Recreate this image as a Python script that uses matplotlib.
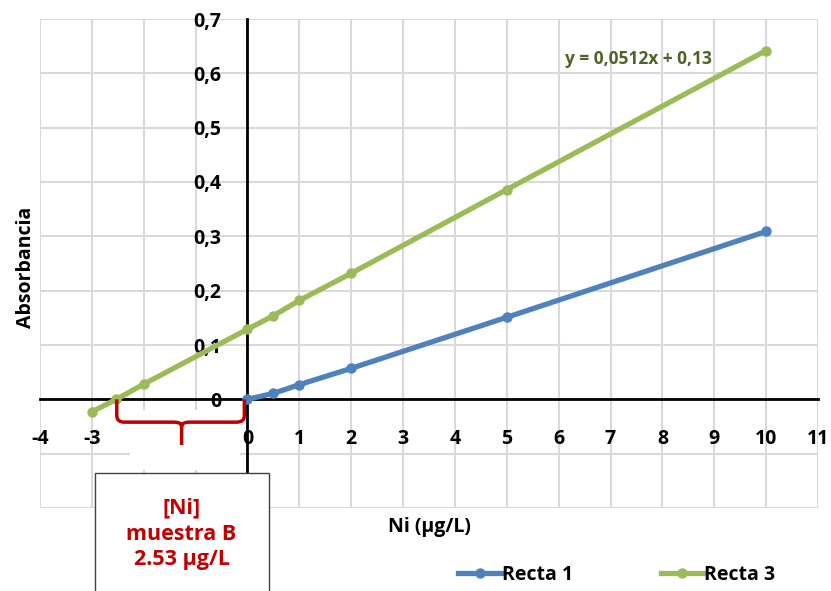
import matplotlib
matplotlib.use("Agg")
import matplotlib.pyplot as plt
from matplotlib.path import Path
from matplotlib.patches import PathPatch, Rectangle

# datos
x_recta1 = [0, 0.5, 1, 2, 5, 10]
y_recta1 = [0, 0.011, 0.027, 0.057, 0.151, 0.309]

x_recta3 = [-3, -2.53, -2, 0, 0.5, 1, 2, 5, 10]
y_recta3 = [-0.023, 0, 0.028, 0.129, 0.154, 0.182, 0.232, 0.386, 0.642]

x_ticks = list(range(-4, 12))
y_ticks = [-0.2, -0.1, 0, 0.1, 0.2, 0.3, 0.4, 0.5, 0.6, 0.7]
y_labels = ["", "", "0", "0,1", "0,2", "0,3", "0,4", "0,5", "0,6", "0,7"]

ecuacion = "y = 0,0512x + 0,13"
texto_caja = "[Ni]\nmuestra B\n2.53 µg/L"

plt.rcParams['font.family'] = ['Open Sans', 'DejaVu Sans']
plt.rcParams['font.weight'] = 'bold'
plt.rcParams['axes.labelweight'] = 'bold'
plt.rcParams['axes.unicode_minus'] = False

fs = 14

fig = plt.figure(figsize=(8.31, 5.91), dpi=100)
ax = fig.add_axes([40/831, 1-508/591, 778/831, 489/591])

ax.set_xlim(-4, 11)
ax.set_ylim(-0.2, 0.7)
ax.set_xticks(x_ticks)
ax.set_yticks(y_ticks)
ax.set_yticklabels(y_labels)
ax.grid(True, color="#d9d9d9", linewidth=1.5)
ax.set_axisbelow(True)

for s in ["top", "right"]:
    ax.spines[s].set_visible(False)
ax.spines["left"].set_position(("data", 0))
ax.spines["bottom"].set_position(("data", 0))
ax.spines["left"].set_linewidth(2)
ax.spines["bottom"].set_linewidth(2)
ax.tick_params(axis="both", length=0, labelsize=fs)
ax.tick_params(axis="x", pad=21)
ax.tick_params(axis="y", pad=19)
for lab in ax.get_xticklabels() + ax.get_yticklabels():
    lab.set_fontweight("bold")

l1, = ax.plot(x_recta1, y_recta1, color="#4f81bd", lw=3.8, marker="o", ms=6.5,
              label="Recta 1", zorder=3, clip_on=False)
l3, = ax.plot(x_recta3, y_recta3, color="#9bbb59", lw=3.8, marker="o", ms=6.5,
              label="Recta 3", zorder=3, clip_on=False)

ax.text(7.54, 0.627, ecuacion, color="#4f6228", fontsize=12.5, ha="center",
        va="center", fontweight="bold")

# tapa (como en excel) las etiquetas -2 y -1
ax.add_patch(Rectangle((-2.27, -0.13), 2.12, 0.11, facecolor="white",
                       edgecolor="none", zorder=4, clip_on=False))

# llave roja
x0, x1, xm = -2.52, -0.06, -1.27
y0, y1, y2 = 0.0, -0.042, -0.084
r = 0.15
verts = [(x0, y0), (x0, y1 + 0.012), (x0, y1), (x0 + r, y1),
         (xm - r, y1), (xm, y1), (xm, y1 - 0.008), (xm, y2),
         (xm, y1 - 0.008), (xm, y1), (xm + r, y1),
         (x1 - r, y1), (x1, y1), (x1, y1 + 0.012), (x1, y0)]
codes = [Path.MOVETO, Path.LINETO, Path.CURVE3, Path.CURVE3,
         Path.LINETO, Path.CURVE3, Path.CURVE3, Path.LINETO,
         Path.MOVETO, Path.CURVE3, Path.CURVE3,
         Path.LINETO, Path.CURVE3, Path.CURVE3, Path.LINETO]
ax.add_patch(PathPatch(Path(verts, codes), facecolor="none", edgecolor="#c00000",
                       lw=2.5, zorder=5, clip_on=False))

# caja con el resultado
ax.add_patch(Rectangle((-2.94, -0.36), 3.36, 0.224, facecolor="white",
                       edgecolor="#404040", lw=1, zorder=6, clip_on=False))
ax.text(-1.27, -0.248, texto_caja, color="#c00000", fontsize=15.5, ha="center",
        va="center", linespacing=1.3, zorder=7, fontweight="bold")

ax.set_ylabel("Absorbancia", fontsize=fs)
ax.yaxis.set_label_coords(36/831, 1-267/591, transform=fig.transFigure)
ax.set_xlabel("Ni (µg/L)", fontsize=fs)
ax.xaxis.set_label_coords(429/831, 1-517/591, transform=fig.transFigure)

fig.legend(handles=[l1, l3], loc="center", bbox_to_anchor=(617/831, 1-575/591),
           ncol=2, frameon=False, prop={"size": fs, "weight": "bold"},
           handlelength=2.2, columnspacing=4.5, handletextpad=0.05)

fig.savefig("out.png", dpi=100)
